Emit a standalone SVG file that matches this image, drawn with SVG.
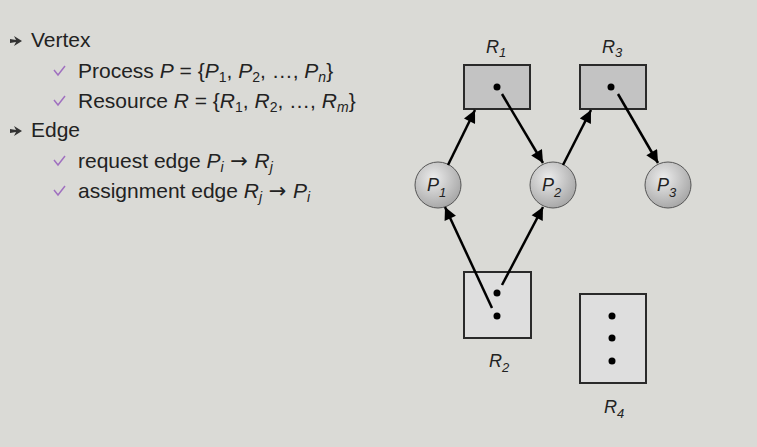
<svg xmlns="http://www.w3.org/2000/svg" width="757" height="447" viewBox="0 0 757 447">
<defs>
<style>
.t{font-family:"Liberation Sans",Arial,sans-serif;font-size:21px;fill:#222}
.i{font-style:italic}
.s{font-size:14px}
.ar{font-family:"DejaVu Sans",sans-serif;font-size:21px}
.lbl{font-family:"Liberation Sans",Arial,sans-serif;font-style:italic;font-size:18px;fill:#222}
.ls{font-size:13px}
.res1{fill:#c3c3c3;stroke:#2a2a2a;stroke-width:2}
.res2{fill:#dedede;stroke:#2a2a2a;stroke-width:2}
.proc{fill:url(#pg);stroke:#555;stroke-width:1}
.dot{fill:#000}
.edge{stroke:#000;stroke-width:2.5;fill:none;marker-end:url(#ah)}
.chk{fill:none;stroke:#a070c0;stroke-width:1.5}
.bul{fill:#333}
</style>
<radialGradient id="pg" cx="0.4" cy="0.35" r="0.7">
<stop offset="0" stop-color="#ececec"/>
<stop offset="1" stop-color="#a4a4a4"/>
</radialGradient>
<marker id="ah" viewBox="0 0 10 10" refX="10" refY="5" markerWidth="5.5" markerHeight="5" orient="auto" markerUnits="strokeWidth">
<path d="M0,0 L10,5 L0,10 Z" fill="#000"/>
</marker>
</defs>
<rect width="757" height="447" fill="#dadad6"/>

<g id="text">
<path class="bul" d="M10,39 L16,40 L14,36 L22,41 L14,46 L16,42 L10,43 Z"/>
<text class="t" x="31" y="47">Vertex</text>
<path class="chk" d="M54,70 L58,75 L65,66"/>
<text class="t" x="78" y="78">Process <tspan class="i">P</tspan> = {<tspan class="i">P</tspan><tspan class="s" dy="4">1</tspan><tspan dy="-4">, </tspan><tspan class="i">P</tspan><tspan class="s" dy="4">2</tspan><tspan dy="-4">, …, </tspan><tspan class="i">P</tspan><tspan class="s i" dy="4">n</tspan><tspan dy="-4">}</tspan></text>
<path class="chk" d="M54,100 L58,105 L65,96"/>
<text class="t" x="78" y="108">Resource <tspan class="i">R</tspan> = {<tspan class="i">R</tspan><tspan class="s" dy="4">1</tspan><tspan dy="-4">, </tspan><tspan class="i">R</tspan><tspan class="s" dy="4">2</tspan><tspan dy="-4">, …, </tspan><tspan class="i">R</tspan><tspan class="s i" dy="4">m</tspan><tspan dy="-4">}</tspan></text>
<path class="bul" d="M10,129 L16,130 L14,126 L22,131 L14,136 L16,132 L10,133 Z"/>
<text class="t" x="31" y="137">Edge</text>
<path class="chk" d="M54,160 L58,165 L65,156"/>
<text class="t" x="78" y="168">request edge <tspan class="i">P</tspan><tspan class="s i" dy="4">i</tspan><tspan class="ar" dy="-4"> → </tspan><tspan class="i">R</tspan><tspan class="s i" dy="4">j</tspan></text>
<path class="chk" d="M54,190 L58,195 L65,186"/>
<text class="t" x="78" y="198">assignment edge <tspan class="i">R</tspan><tspan class="s i" dy="4">j</tspan><tspan class="ar" dy="-4"> → </tspan><tspan class="i">P</tspan><tspan class="s i" dy="4">i</tspan></text>
</g>

<g id="R1">
<rect class="res1" x="464" y="65" width="66" height="44"/>
<circle class="dot" cx="497" cy="87" r="3.5"/>
<text class="lbl" x="486" y="53">R<tspan class="ls" dy="4">1</tspan></text>
</g>
<g id="R3">
<rect class="res1" x="580" y="65" width="66" height="44"/>
<circle class="dot" cx="611" cy="87" r="3.5"/>
<text class="lbl" x="602" y="53">R<tspan class="ls" dy="4">3</tspan></text>
</g>
<g id="R2">
<rect class="res2" x="464" y="272" width="67" height="66"/>
<circle class="dot" cx="497" cy="293" r="3.5"/>
<circle class="dot" cx="497" cy="316" r="3.5"/>
<text class="lbl" x="489" y="367">R<tspan class="ls" dy="5">2</tspan></text>
</g>
<g id="R4">
<rect class="res2" x="580" y="294" width="66" height="89"/>
<circle class="dot" cx="612" cy="316" r="3.5"/>
<circle class="dot" cx="612" cy="338" r="3.5"/>
<circle class="dot" cx="612" cy="361" r="3.5"/>
<text class="lbl" x="604" y="413">R<tspan class="ls" dy="5">4</tspan></text>
</g>
<g id="P1">
<circle class="proc" cx="438" cy="185" r="23"/>
<text class="lbl" x="427" y="191">P<tspan class="ls" dy="6">1</tspan></text>
</g>
<g id="P2">
<circle class="proc" cx="553" cy="185" r="23"/>
<text class="lbl" x="542" y="191">P<tspan class="ls" dy="6">2</tspan></text>
</g>
<g id="P3">
<circle class="proc" cx="668" cy="185" r="23"/>
<text class="lbl" x="657" y="191">P<tspan class="ls" dy="6">3</tspan></text>
</g>

<g id="connectors">
<line class="edge" x1="448" y1="165" x2="475" y2="110"/>
<line class="edge" x1="502" y1="94" x2="543" y2="163"/>
<line class="edge" x1="563" y1="165" x2="591" y2="110"/>
<line class="edge" x1="618" y1="94" x2="658" y2="163"/>
<line class="edge" x1="492" y1="308" x2="445" y2="207"/>
<line class="edge" x1="502" y1="285" x2="543" y2="207"/>
</g>
</svg>
